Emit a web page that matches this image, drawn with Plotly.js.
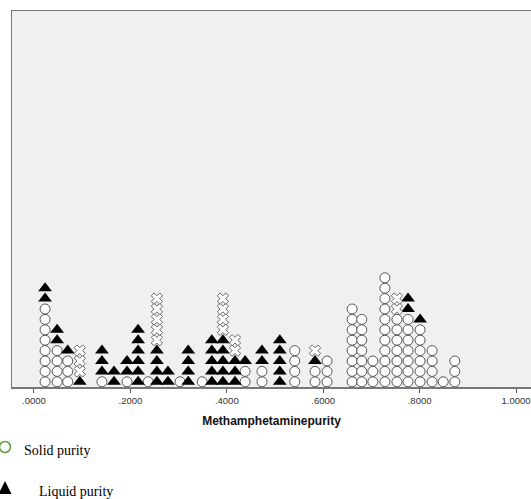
<!DOCTYPE html>
<html>
<head>
<meta charset="utf-8">
<script src="https://cdn.plot.ly/plotly-3.0.1.min.js"></script>
<style>html,body{margin:0;padding:0;background:#fff;}#chart{width:531px;height:499px;}</style>
</head>
<body>
<div id="chart"></div>
<script>
// Bin centres of the dot plot (methamphetamine purity)
const binCenters = [0.023, 0.048, 0.070, 0.095, 0.141, 0.166, 0.193, 0.216, 0.237, 0.255,
                    0.278, 0.303, 0.320, 0.349, 0.369, 0.392, 0.417, 0.438, 0.473, 0.510,
                    0.541, 0.583, 0.608, 0.660, 0.680, 0.703, 0.728, 0.753, 0.776, 0.801,
                    0.826, 0.849, 0.873];
// Number of stacked dots per bin, for each group
const solidCounts  = [8, 4, 3, 0, 1, 0, 1, 0, 1, 0, 0, 1, 0, 1, 0, 0, 0, 2, 2, 0,
                      4, 2, 3, 8, 7, 3, 11, 7, 7, 6, 4, 1, 3];
const liquidCounts = [2, 2, 1, 1, 3, 2, 2, 6, 0, 4, 2, 0, 4, 0, 5, 5, 3, 1, 2, 5,
                      0, 1, 0, 0, 0, 0, 0, 0, 2, 1, 0, 0, 0];
const otherCounts  = [0, 0, 0, 3, 0, 0, 0, 0, 0, 5, 0, 0, 0, 0, 0, 4, 2, 0, 0, 0,
                      0, 1, 0, 0, 0, 0, 0, 2, 0, 0, 0, 0, 0];
const tickVals   = [0, 0.2, 0.4, 0.6, 0.8, 1.0];
const tickLabels = ['.0000', '.2000', '.4000', '.6000', '.8000', '1.0000'];
const seriesNames = ['Solid purity', 'Liquid purity'];

const pts = {solid: {x: [], y: []}, liquid: {x: [], y: []}, other: {x: [], y: []}};
binCenters.forEach((c, i) => {
  let k = 0;
  [['solid', solidCounts], ['liquid', liquidCounts], ['other', otherCounts]].forEach(([key, arr]) => {
    for (let j = 0; j < arr[i]; j++) { pts[key].x.push(c); pts[key].y.push(k + 0.5); k++; }
  });
});

const traces = [
  {x: pts.solid.x, y: pts.solid.y, mode: 'markers', type: 'scatter', name: seriesNames[0], hoverinfo: 'x',
   marker: {symbol: 'circle', size: 10, color: '#ffffff', line: {color: '#555555', width: 1}}},
  {x: pts.liquid.x, y: pts.liquid.y, mode: 'markers', type: 'scatter', name: seriesNames[1], hoverinfo: 'x',
   marker: {symbol: 'triangle-up', size: 12, color: '#000000', line: {width: 0}}},
  {x: pts.other.x, y: pts.other.y, mode: 'markers', type: 'scatter', name: 'other', hoverinfo: 'x',
   marker: {symbol: 'x', size: 10, color: '#ffffff', line: {color: '#666666', width: 1}}}
];

// page-pixel -> paper helpers for the caption-style key below the chart
const M = {l: 12, r: 0, t: 11, b: 112}, W = 531, H = 499;
const pw = W - M.l - M.r, ph = H - M.t - M.b;
const px = v => (v - M.l) / pw;
const py = v => (H - M.b - v) / ph;

const legFont = {family: 'Liberation Serif, Times New Roman, serif', size: 14, color: '#000'};
const layout = {
  width: W, height: H,
  margin: {l: M.l, r: M.r, t: M.t, b: M.b, pad: 0},
  paper_bgcolor: '#ffffff',
  plot_bgcolor: '#f0f0f0',
  showlegend: false,
  xaxis: {
    range: [-0.0456, 1.0311],
    tickmode: 'array', tickvals: tickVals, ticktext: tickLabels, ticklabeloverflow: 'allow',
    ticks: 'outside', ticklen: 4, tickcolor: '#555', tickwidth: 1,
    tickfont: {family: 'Liberation Sans, Arial, sans-serif', size: 9.5, color: '#333'},
    showline: true, linecolor: '#777', linewidth: 1.5, mirror: true,
    showgrid: false, zeroline: false,
    title: {text: 'Methamphetaminepurity', standoff: 11,
            font: {family: 'Liberation Sans, Arial, sans-serif', size: 12, color: '#111', weight: 'bold'}}
  },
  yaxis: {
    range: [0, 36.15], showticklabels: false, ticks: '', showgrid: false, zeroline: false,
    showline: true, linecolor: '#777', linewidth: 1.5
  },
  shapes: [
    {type: 'circle', xref: 'paper', yref: 'paper', x0: px(-0.5), x1: px(10.5), y0: py(452.5), y1: py(441.5),
     line: {color: '#5f9e3c', width: 1.5}, fillcolor: 'rgba(0,0,0,0)'},
    {type: 'path', xref: 'paper', yref: 'paper',
     path: `M ${px(-1.5)} ${py(494)} L ${px(11.5)} ${py(494)} L ${px(5)} ${py(481)} Z`,
     line: {width: 0}, fillcolor: '#000000'}
  ],
  annotations: [
    {text: seriesNames[0], xref: 'paper', yref: 'paper', x: px(22), y: py(450), xanchor: 'left', yanchor: 'middle',
     showarrow: false, font: legFont},
    {text: seriesNames[1], xref: 'paper', yref: 'paper', x: px(37), y: py(491), xanchor: 'left', yanchor: 'middle',
     showarrow: false, font: legFont}
  ]
};

Plotly.newPlot('chart', traces, layout, {displayModeBar: false, staticPlot: true});
</script>
</body>
</html>
